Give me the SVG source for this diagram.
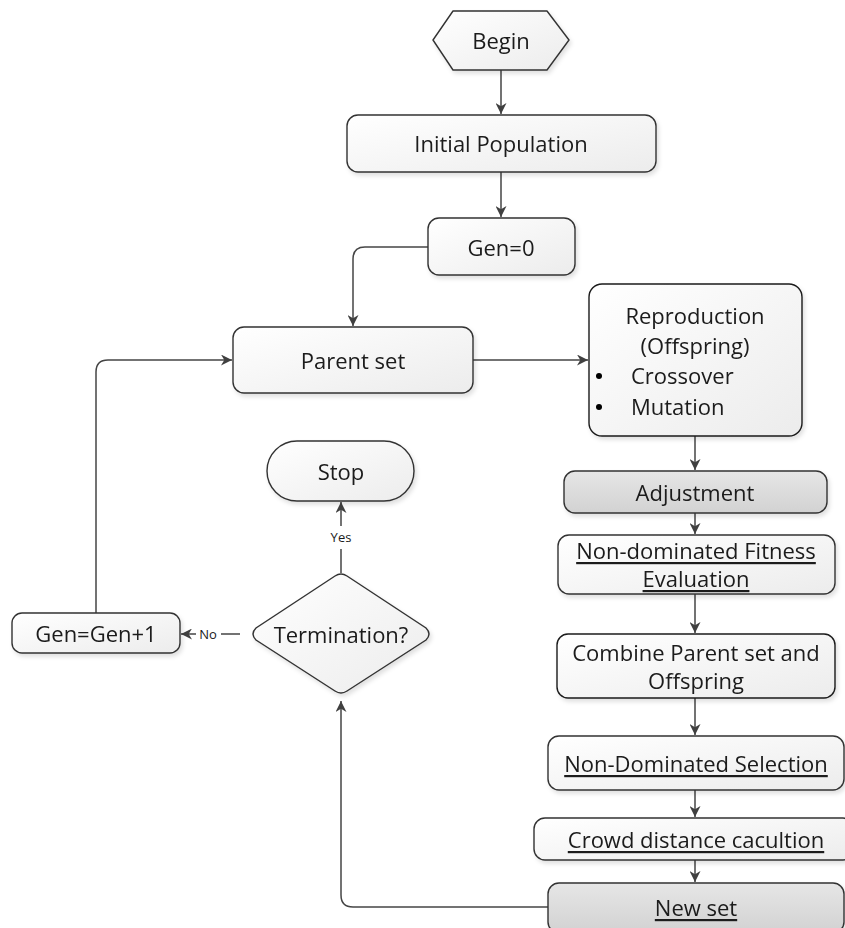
<svg xmlns="http://www.w3.org/2000/svg" width="845" height="928" viewBox="0 0 845 928">
<style>
.n{fill:url(#g);stroke:#333;stroke-width:1.4}
.d{fill:url(#gd);stroke:#333;stroke-width:1.4}
.t{font-family:"Open Sans","Noto Sans","Liberation Sans",sans-serif;font-size:22px;fill:#1a1a1a;text-anchor:middle;dominant-baseline:central}
.l{text-anchor:start}
.u{text-decoration:underline}
.s{font-family:"Open Sans","Noto Sans","Liberation Sans",sans-serif;font-size:13px;fill:#1a1a1a;text-anchor:middle;dominant-baseline:central}
.c{fill:none;stroke:#454545;stroke-width:1.5}
</style>
<defs>
<linearGradient id="g" x1="0" y1="0" x2="1" y2="1"><stop offset="0" stop-color="#ffffff"/><stop offset="1" stop-color="#ececec"/></linearGradient>
<linearGradient id="gd" x1="0" y1="0" x2="0" y2="1"><stop offset="0" stop-color="#e6e6e6"/><stop offset="1" stop-color="#d2d2d2"/></linearGradient>
<filter id="sh" x="-10%" y="-10%" width="130%" height="140%"><feDropShadow dx="2" dy="3" stdDeviation="2" flood-color="#000" flood-opacity="0.12"/></filter>
<marker id="a" viewBox="0 0 10 10" refX="10" refY="5" markerWidth="11" markerHeight="11" markerUnits="userSpaceOnUse" orient="auto"><path d="M0,0 L10,5 L0,10 L3,5 z" fill="#404040"/></marker>
</defs>
<g id="connectors">
<path class="c" d="M501,70 V114" marker-end="url(#a)"/>
<path class="c" d="M501,172 V217" marker-end="url(#a)"/>
<path class="c" d="M428,247 H365 Q353,247 353,259 V326" marker-end="url(#a)"/>
<path class="c" d="M473,360 H588" marker-end="url(#a)"/>
<path class="c" d="M695,436 V470" marker-end="url(#a)"/>
<path class="c" d="M695,513 V534" marker-end="url(#a)"/>
<path class="c" d="M695,594 V633" marker-end="url(#a)"/>
<path class="c" d="M695,698 V735" marker-end="url(#a)"/>
<path class="c" d="M695,790 V817" marker-end="url(#a)"/>
<path class="c" d="M695,860 V882" marker-end="url(#a)"/>
<path class="c" d="M548,907 H353 Q341,907 341,895 V701" marker-end="url(#a)"/>
<path class="c" d="M341,573 V549 M341,526 V502" marker-end="url(#a)"/>
<text class="s" x="341" y="537">Yes</text>
<path class="c" d="M240,634 H221 M196,634 H181" marker-end="url(#a)"/>
<text class="s" x="208" y="634">No</text>
<path class="c" d="M96,613 V372 Q96,360 108,360 H232" marker-end="url(#a)"/>
</g>
<g id="begin" filter="url(#sh)">
<path class="n" d="M453,11 H547 L569,40 L547,70 H453 L433,40 Z" stroke-linejoin="round"/>
<text class="t" x="501" y="40">Begin</text>
</g>
<g id="initial" filter="url(#sh)">
<rect class="n" x="347" y="115" width="309" height="57" rx="11"/>
<text class="t" x="501" y="143">Initial Population</text>
</g>
<g id="gen0" filter="url(#sh)">
<rect class="n" x="428" y="218" width="147" height="57" rx="11"/>
<text class="t" x="501" y="247">Gen=0</text>
</g>
<g id="parent" filter="url(#sh)">
<rect class="n" x="233" y="327" width="240" height="66" rx="11"/>
<text class="t" x="353" y="360">Parent set</text>
</g>
<g id="reproduction" filter="url(#sh)">
<rect class="n" x="589" y="284" width="213" height="152" rx="13" style="stroke:#1a1a1a"/>
<text class="t" x="695" y="315">Reproduction</text>
<text class="t" x="695" y="345">(Offspring)</text>
<circle cx="599" cy="376" r="3" fill="#000"/>
<circle cx="599" cy="407" r="3" fill="#000"/>
<text class="t l" x="631" y="375">Crossover</text>
<text class="t l" x="631" y="406">Mutation</text>
</g>
<g id="adjustment" filter="url(#sh)">
<rect class="d" x="564" y="471" width="263" height="42" rx="11"/>
<text class="t" x="695" y="492">Adjustment</text>
</g>
<g id="fitness" filter="url(#sh)">
<rect class="n" x="558" y="535" width="277" height="59" rx="11"/>
<text class="t u" x="696" y="550">Non-dominated Fitness</text>
<text class="t u" x="696" y="578">Evaluation</text>
</g>
<g id="combine" filter="url(#sh)">
<rect class="n" x="557" y="634" width="278" height="64" rx="11" style="stroke:#1a1a1a"/>
<text class="t" x="696" y="652">Combine Parent set and</text>
<text class="t" x="696" y="680">Offspring</text>
</g>
<g id="selection" filter="url(#sh)">
<rect class="n" x="548" y="736" width="296" height="54" rx="11"/>
<text class="t u" x="696" y="763">Non-Dominated Selection</text>
</g>
<g id="crowd" filter="url(#sh)">
<rect class="n" x="534" y="818" width="320" height="42" rx="11"/>
<text class="t u" x="696" y="839">Crowd distance cacultion</text>
</g>
<g id="newset" filter="url(#sh)">
<rect class="d" x="548" y="883" width="296" height="50" rx="11"/>
<text class="t u" x="696" y="907">New set</text>
</g>
<g id="stop" filter="url(#sh)">
<rect class="n" x="267" y="441" width="147" height="60" rx="30"/>
<text class="t" x="341" y="471">Stop</text>
</g>
<g id="termination" filter="url(#sh)">
<path class="n" d="M335,576 Q341,572 347,576 L426,628 Q432,634 426,640 L347,691 Q341,695 335,691 L256,640 Q250,634 256,628 Z"/>
<text class="t" x="341" y="634">Termination?</text>
</g>
<g id="gen1" filter="url(#sh)">
<rect class="n" x="12" y="613" width="168" height="40" rx="10"/>
<text class="t" x="96" y="633">Gen=Gen+1</text>
</g>
</svg>
